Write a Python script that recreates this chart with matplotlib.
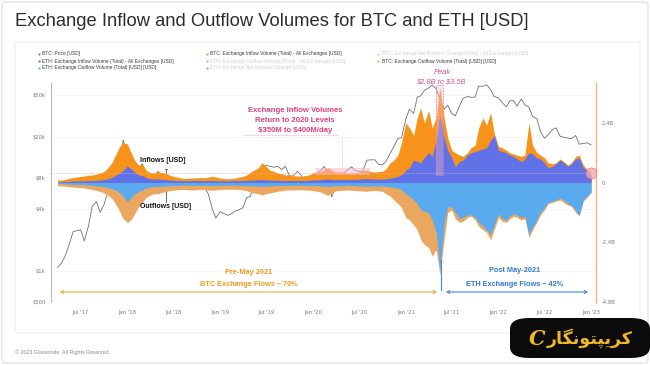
import matplotlib
matplotlib.use("Agg")
import matplotlib.pyplot as plt
import matplotlib.dates as mdates
from matplotlib.patches import FancyBboxPatch, Rectangle, FancyArrowPatch
from matplotlib.lines import Line2D
import pandas as pd

# ---------------- data (semi-monthly, Apr 2017 - Jan 2023) ----------------
dates = pd.date_range("2017-04-01", periods=139, freq="SMS")

btc_price = [1080, 1180, 1400, 1750, 2400, 2450, 2500, 1950, 2750, 4200, 4700, 3700, 4400, 5700, 6700, 7300, 10800, 18500,
             13500, 13800, 9100, 10000, 10900, 8200, 6900, 8000, 9200, 8500, 7500, 6500, 6350, 6300, 7600, 6300, 7100, 6500, 6600, 6500, 6350, 5600, 4000, 3250,
             3750, 3600, 3450, 3600, 3800, 3900, 4100, 5100, 5300, 8000, 8500, 8700, 10600, 10300, 10100, 10300, 9600, 10300, 8300, 8300, 9200, 8500, 7400, 7100,
             7200, 8800, 9400, 10300, 8600, 5200, 6600, 6800, 8800, 9400, 10200, 9400, 9200, 9200, 11800, 11900, 11900, 10800, 10600, 11500, 13800, 16000, 19200, 19400,
             29400, 36800, 33500, 48000, 49600, 56000, 59000, 63000, 57800, 46700, 36700, 40200, 33500, 31800, 39800, 47000, 48800, 48000, 48200, 61500, 61300, 63500, 57000, 48900,
             47300, 43000, 38700, 44500, 44400, 39300, 46300, 40500, 38500, 31300, 29800, 22500, 19300, 20800, 23300, 24300, 20100, 19700, 19300, 19100, 20500, 16900, 17100, 17400,
             16600]

# billions of USD
btc_inflow = [0.10, 0.10, 0.12, 0.17, 0.20, 0.22, 0.24, 0.26, 0.30, 0.30,
              0.34, 0.38, 0.45, 0.58, 0.80, 1.10, 1.45, 1.60, 1.55, 1.20,
              0.85, 0.70, 0.75, 0.50, 0.40, 0.38, 0.45, 0.40, 0.38, 0.30,
              0.25, 0.22, 0.18, 0.16, 0.17, 0.18, 0.19, 0.20, 0.19, 0.22,
              0.25, 0.22, 0.18, 0.16, 0.15, 0.16, 0.18, 0.22, 0.25, 0.30,
              0.42, 0.50, 0.60, 0.80, 0.65, 0.50, 0.45, 0.38, 0.35, 0.31,
              0.30, 0.28, 0.26, 0.25, 0.28, 0.30, 0.38, 0.40, 0.45, 0.50,
              0.60, 0.50, 0.42, 0.44, 0.42, 0.38, 0.40, 0.38, 0.42, 0.48,
              0.50, 0.45, 0.42, 0.44, 0.45, 0.55, 0.80, 0.90, 1.10, 1.60,
              2.40, 2.20, 1.90, 2.60, 3.00, 2.40, 2.90, 2.20, 2.60, 3.80,
              2.60, 1.80, 1.30, 1.20, 1.10, 1.05, 1.20, 1.40, 1.50, 2.20,
              2.60, 2.30, 2.80, 2.00, 1.45, 1.40, 1.30, 1.20, 1.15, 1.10,
              1.05, 1.10, 2.40, 1.50, 1.20, 1.10, 1.00, 0.80, 0.75, 0.80,
              0.95, 0.85, 0.70, 0.80, 1.05, 1.10, 0.70, 0.55, 0.38]

eth_inflow = [0.03, 0.03, 0.04, 0.05, 0.06, 0.06, 0.07, 0.07, 0.08, 0.08,
              0.09, 0.10, 0.12, 0.15, 0.20, 0.30, 0.38, 0.50, 0.67, 0.55,
              0.40, 0.30, 0.28, 0.20, 0.15, 0.14, 0.15, 0.13, 0.12, 0.10,
              0.09, 0.08, 0.08, 0.07, 0.07, 0.08, 0.08, 0.08, 0.07, 0.08,
              0.08, 0.07, 0.07, 0.07, 0.07, 0.07, 0.08, 0.08, 0.08, 0.09,
              0.10, 0.10, 0.11, 0.12, 0.11, 0.10, 0.09, 0.09, 0.08, 0.08,
              0.08, 0.08, 0.08, 0.08, 0.08, 0.09, 0.10, 0.11, 0.12, 0.13,
              0.15, 0.13, 0.12, 0.13, 0.13, 0.12, 0.13, 0.13, 0.14, 0.15,
              0.16, 0.15, 0.14, 0.14, 0.14, 0.15, 0.18, 0.20, 0.25, 0.32,
              0.50, 0.60, 0.90, 0.85, 0.80, 1.00, 1.20, 1.05, 1.70, 2.70,
              1.80, 1.30, 1.00, 0.64, 0.85, 0.90, 1.10, 1.20, 1.25, 1.30,
              1.35, 1.40, 1.70, 1.90, 1.30, 1.25, 1.20, 1.10, 1.05, 0.95,
              0.84, 0.95, 1.20, 1.15, 1.00, 0.95, 0.80, 0.60, 0.65, 0.75,
              0.90, 0.80, 0.65, 0.75, 0.95, 0.98, 0.60, 0.50, 0.33]

btc_outflow = [-0.13, -0.13, -0.15, -0.17, -0.18, -0.20, -0.20, -0.22, -0.25, -0.28,
               -0.32, -0.36, -0.42, -0.50, -0.65, -0.85, -1.15, -1.45, -1.60, -1.50,
               -1.20, -0.95, -0.80, -0.60, -0.50, -0.45, -0.45, -0.40, -0.36, -0.33,
               -0.30, -0.29, -0.28, -0.28, -0.29, -0.30, -0.29, -0.28, -0.28, -0.30,
               -0.31, -0.30, -0.28, -0.27, -0.27, -0.27, -0.27, -0.28, -0.30, -0.33,
               -0.38, -0.42, -0.45, -0.50, -0.45, -0.42, -0.38, -0.35, -0.33, -0.30,
               -0.30, -0.30, -0.29, -0.29, -0.30, -0.30, -0.32, -0.35, -0.38, -0.45,
               -0.52, -0.40, -0.33, -0.32, -0.31, -0.30, -0.31, -0.32, -0.33, -0.34,
               -0.35, -0.33, -0.32, -0.33, -0.35, -0.45, -0.55, -0.70, -0.85, -1.00,
               -1.40, -1.50, -1.70, -1.90, -2.30, -2.50, -2.60, -2.95, -2.70, -3.70,
               -2.30, -1.20, -1.10, -1.45, -1.60, -1.55, -1.40, -1.35, -1.50, -1.75,
               -1.90, -2.00, -2.30, -1.90, -1.40, -1.55, -1.60, -1.45, -1.35, -1.40,
               -1.50, -1.45, -2.20, -1.90, -1.60, -1.30, -1.10, -0.85, -0.80, -0.75,
               -0.70, -0.80, -0.90, -0.95, -1.20, -1.35, -0.75, -0.60, -0.40]

eth_outflow = [-0.04, -0.04, -0.05, -0.06, -0.07, -0.07, -0.08, -0.08, -0.10, -0.11,
               -0.13, -0.15, -0.17, -0.20, -0.25, -0.30, -0.40, -0.55, -0.78, -0.60,
               -0.45, -0.35, -0.30, -0.22, -0.18, -0.16, -0.16, -0.15, -0.14, -0.13,
               -0.12, -0.12, -0.11, -0.11, -0.11, -0.12, -0.12, -0.11, -0.11, -0.12,
               -0.12, -0.12, -0.11, -0.11, -0.11, -0.11, -0.11, -0.11, -0.12, -0.12,
               -0.13, -0.13, -0.14, -0.15, -0.14, -0.13, -0.12, -0.12, -0.12, -0.12,
               -0.12, -0.12, -0.11, -0.11, -0.12, -0.12, -0.12, -0.12, -0.13, -0.14,
               -0.16, -0.14, -0.13, -0.13, -0.13, -0.12, -0.12, -0.13, -0.13, -0.14,
               -0.15, -0.14, -0.14, -0.14, -0.14, -0.15, -0.17, -0.20, -0.22, -0.30,
               -0.45, -0.55, -0.70, -0.85, -1.10, -1.15, -1.22, -1.50, -2.00, -3.50,
               -1.60, -0.96, -1.00, -1.20, -1.45, -1.40, -1.30, -1.30, -1.40, -1.60,
               -1.75, -1.90, -2.10, -1.70, -1.25, -1.45, -1.50, -1.35, -1.25, -1.30,
               -1.40, -1.35, -2.10, -1.80, -1.50, -1.20, -1.00, -0.80, -0.75, -0.70,
               -0.62, -0.70, -0.85, -0.90, -1.15, -1.30, -0.70, -0.55, -0.38]

price_ticks = [500, 1000, 4000, 8000, 20000, 50000]
price_tick_labels = ["\\$500", "\\$1k", "\\$4k", "\\$8k", "\\$20k", "\\$50k"]
vol_ticks = [-4.8, -2.4, 0, 2.4]
vol_tick_labels = ["-4.8B", "-2.4B", "0", "2.4B"]
x_ticks = pd.date_range("2017-07-01", "2023-01-01", freq="6MS")
x_tick_labels = [d.strftime("%b '%y") for d in x_ticks]

title = "Exchange Inflow and Outflow Volumes for BTC and ETH [USD]"
legend_cols = [
    [("BTC: Price [USD]", "#8a8a8a", True),
     ("ETH: Exchange Inflow Volume (Total) - All Exchanges [USD]", "#6172E8", True),
     ("ETH: Exchange Outflow Volume (Total) [USD] [USD]", "#5AAAF0", True)],
    [("BTC: Exchange Inflow Volume (Total) - All Exchanges [USD]", "#F7931A", True),
     ("ETH: Exchange Outflow Volume (Total) - All Exchanges [USD]", "#A9B0F2", False),
     ("ETH: Exchange Net Position Change [USD]", "#A98BE6", False)],
    [("BTC: Exchange Net Position Change (Total) - All Exchanges [USD]", "#F8C88A", False),
     ("BTC: Exchange Outflow Volume (Total) [USD] [USD]", "#EBA75F", True)],
]

# ---------------- figure ----------------
W, H = 650, 365
fig = plt.figure(figsize=(W / 100, H / 100), dpi=100)
fig.patch.set_facecolor("white")

def fx(x):
    return x / W

def fy(y):
    return 1 - y / H

def ftext(x, y, s, **kw):
    return fig.text(fx(x), fy(y), s, **kw)

# outer card + chart panel
fig.add_artist(FancyBboxPatch((fx(2), fy(363)), fx(646), 361 / H, boxstyle="round,pad=0,rounding_size=0.006",
                              transform=fig.transFigure, fc="white", ec="#dedede", lw=0.8, zorder=-10))
fig.add_artist(FancyBboxPatch((fx(15), fy(333)), fx(625), 291 / H, boxstyle="round,pad=0,rounding_size=0.004",
                              transform=fig.transFigure, fc="white", ec="#ececec", lw=0.7, zorder=-9))

ax = fig.add_axes([fx(51), fy(302), fx(545), 219 / H])
ax2 = ax.twinx()
ax.set_zorder(1)
ax2.set_zorder(2)
ax.patch.set_visible(False)
ax2.patch.set_visible(False)

# price (left, log)
ax.plot(dates, btc_price, color="#6f6f6f", lw=0.6, zorder=2)
ax.set_yscale("log")
ax.set_ylim(500, 66000)
ax.set_yticks(price_ticks)
ax.set_yticklabels(price_tick_labels)
ax.yaxis.set_minor_locator(matplotlib.ticker.NullLocator())
ax.grid(axis="y", color="#f1f1f1", lw=0.5)
ax.set_xlim(pd.Timestamp("2017-03-06"), pd.Timestamp("2023-01-20"))
ax.set_xticks(x_ticks)
ax.set_xticklabels(x_tick_labels)
ax.tick_params(axis="both", length=0, labelsize=3.8, labelcolor="#7a7a7a", pad=4)
ax.tick_params(axis="x", pad=6)
for s in ["top", "bottom", "right"]:
    ax.spines[s].set_visible(False)
ax.spines["left"].set_color("#b5b5b5")
ax.spines["left"].set_linewidth(0.7)

# volumes (right)
ax2.fill_between(dates, 0, btc_inflow, color="#F7931A", lw=0, zorder=3)
ax2.fill_between(dates, 0, eth_inflow, color="#6172E8", lw=0, zorder=4)
ax2.fill_between(dates, 0, btc_outflow, color="#EBA75F", lw=0, zorder=3)
ax2.fill_between(dates, 0, eth_outflow, color="#5AAAF0", lw=0, zorder=4)
ax2.set_ylim(-4.8, 4.0)
ax2.set_yticks(vol_ticks)
ax2.set_yticklabels(vol_tick_labels)
ax2.tick_params(axis="y", length=0, labelsize=3.8, labelcolor="#7a7a7a", pad=4)
for s in ["top", "bottom", "left"]:
    ax2.spines[s].set_visible(False)
ax2.spines["right"].set_color("#F4B870")
ax2.spines["right"].set_linewidth(1.0)
ax2.set_xlim(ax.get_xlim())

pink = "#E0407E"
# 2020 level line and band
ax2.axhline(0.4, color="#F3A7BF", lw=0.6, ls=(0, (1, 1.5)), zorder=5)
ax2.fill_between([pd.Timestamp("2020-01-15"), pd.Timestamp("2020-08-15")], 0.3, 0.6,
                 color="#F7B9CC", alpha=0.55, lw=0, zorder=5)
# peak rectangle
p0 = mdates.date2num(pd.Timestamp("2021-05-01"))
p1 = mdates.date2num(pd.Timestamp("2021-05-29"))
ax2.add_patch(Rectangle((p0, 0.3), p1 - p0, 3.6, fc="#F7B9CC", alpha=0.35, ec="none", zorder=5))
ax2.add_patch(Rectangle((p0, 0.3), p1 - p0, 3.6, fc="none", ec="#EC7FA3", lw=0.6, ls=(0, (2, 1.5)), zorder=6))
# end-point circle
ax2.plot([pd.Timestamp("2022-12-31")], [0.4], marker="o", ms=8, mfc="#F6A9B3", mec="#E8707E", mew=0.6,
         alpha=0.8, zorder=7)
# blue marker line below May 2021
ax2.plot([pd.Timestamp("2021-05-19")] * 2, [-3.1, -4.3], color="#3F87E0", lw=0.8, zorder=6)

# ---------------- texts ----------------
ftext(15, 22, title, fontsize=13.2, color="#2d2d2d", va="center", ha="left", family="Liberation Sans")

for cx, col in zip([39, 207, 378], legend_cols):
    for r, (lab, colr, active) in enumerate(col):
        yy = 54 + r * 7
        fig.add_artist(Line2D([fx(cx)], [fy(yy)], marker="s", ms=2.0, color=colr, mec="none",
                              transform=fig.transFigure))
        ftext(cx + 3.5, yy, lab, fontsize=3.5, va="center", ha="left", family="Liberation Sans",
              color="#3a3a3a" if active else "#cfcfcf")

for yy, s in [(111, "Exchange Inflow Volumes"), (120.5, "Return to 2020 Levels"),
              (130, "\\$350M to \\$400M/day")]:
    ftext(295, yy, s, fontsize=5.6, color=pink, weight="bold", ha="center", va="center",
          family="Liberation Sans")
fig.add_artist(Line2D([fx(244), fx(338)], [fy(134.5)] * 2, color="#E68AAA", lw=0.5, ls=(0, (1, 1.2)),
                      transform=fig.transFigure))
fig.add_artist(Line2D([fx(342)] * 2, [fy(137), fy(172)], color="#F3B5C8", lw=0.6, ls=(0, (1, 1.2)),
                      transform=fig.transFigure))

ftext(442, 72.5, "Peak", fontsize=5.4, color="#D9558A", style="italic", ha="center", va="center",
      family="Liberation Sans")
ftext(441, 82, "\\$2.8B to \\$3.5B", fontsize=5.4, color="#D9558A", style="italic", ha="center", va="center",
      family="Liberation Sans")

ftext(140, 160, "Inflows [USD]", fontsize=5.0, color="#111111", weight="bold", ha="left", va="center",
      family="Liberation Sans")
ftext(140, 206, "Outflows [USD]", fontsize=5.0, color="#111111", weight="bold", ha="left", va="center",
      family="Liberation Sans")
fig.add_artist(Line2D([fx(165.7)] * 2, [fy(169), fy(202)], color="#333333", lw=0.5, transform=fig.transFigure))
fig.add_artist(Line2D([fx(164.5), fx(167)], [fy(169)] * 2, color="#333333", lw=0.5, transform=fig.transFigure))

orange_t = "#F39A1E"
blue_t = "#2F7BD8"
ftext(249, 272, "Pre-May 2021", fontsize=5.3, color=orange_t, weight="semibold", ha="center", va="center",
      family="Liberation Sans")
ftext(249, 284, "BTC Exchange Flows ~ 70%", fontsize=5.3, color=orange_t, weight="semibold", ha="center",
      va="center", family="Liberation Sans")
ftext(515, 271, "Post May-2021", fontsize=5.3, color=blue_t, weight="semibold", ha="center", va="center",
      family="Liberation Sans")
ftext(515, 284, "ETH Exchange Flows ~ 42%", fontsize=5.3, color=blue_t, weight="semibold", ha="center",
      va="center", family="Liberation Sans")
fig.add_artist(FancyArrowPatch((fx(57), fy(292)), (fx(440), fy(292)), arrowstyle="<->",
                               mutation_scale=5, color="#F5A83A", lw=0.8, transform=fig.transFigure))
fig.add_artist(FancyArrowPatch((fx(443), fy(292)), (fx(591), fy(292)), arrowstyle="<->",
                               mutation_scale=5, color="#3F87E0", lw=0.8, transform=fig.transFigure))

ftext(15, 352, "\u00a9 2023 Glassnode. All Rights Reserved.", fontsize=3.8, color="#8a8a8a", ha="left",
      va="center", family="Liberation Sans")

# watermark badge
fig.add_artist(FancyBboxPatch((fx(510), fy(358)), fx(140), 40 / H, boxstyle="round,pad=0,rounding_size=0.03",
                              transform=fig.transFigure, fc="#0b0b0b", ec="none", zorder=20))
badge = "\uFEAD\uFE8E\uFB95\uFEE7\uFEEE\uFE98\uFB59\uFBFE\uFEAE\uFB90"
ftext(590, 338, badge, fontsize=12.5, color="#F2B91E", weight="bold", ha="center", va="center",
      family="DejaVu Sans", zorder=21)
ftext(537, 339, "C", fontsize=15, color="#F2B91E", style="italic", weight="bold", ha="center", va="center",
      family="DejaVu Serif", zorder=21)

fig.savefig("out.png", dpi=100)
